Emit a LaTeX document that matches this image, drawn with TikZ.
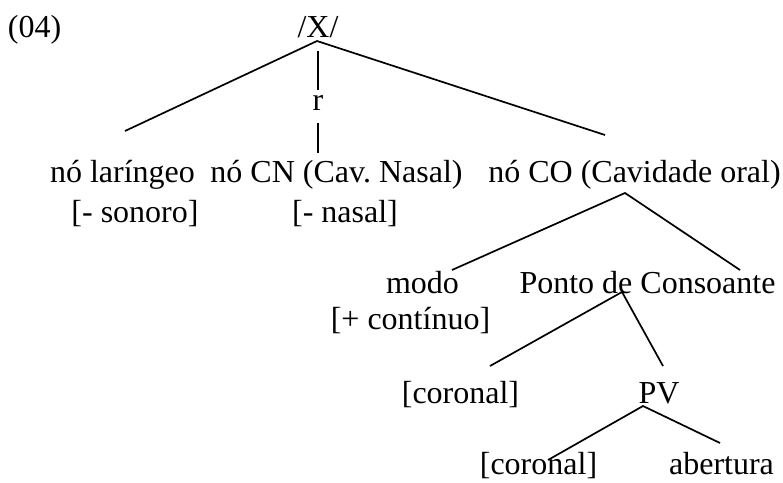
\documentclass[tikz,border=0pt]{standalone}
\usepackage{fontspec}
\setmainfont{Liberation Serif}
\frenchspacing
\begin{document}
\begin{tikzpicture}[x=1pt,y=-1pt,
  lbl/.style={anchor=base,inner sep=0pt,outer sep=0pt,font=\fontsize{32}{38}\selectfont},
  branch/.style={line width=1.7pt},
  tick/.style={line width=1.1pt}]
\useasboundingbox (0,0) rectangle (783,482);

% labels
\node[lbl,anchor=base west] (num) at (8,37) {(04)};
\node[lbl] (X) at (318,37) {/X/};
\node[lbl] (r) at (318,110) {r};
\node[lbl] (lar) at (122.5,182) {nó laríngeo};
\node[lbl] (cn) at (336.5,182) {nó CN (Cav. Nasal)};
\node[lbl] (co) at (634.5,182) {nó CO (Cavidade oral)};
\node[lbl] (son) at (135,222) {[- sonoro]};
\node[lbl] (nas) at (345,222) {[- nasal]};
\node[lbl] (modo) at (422.5,293) {modo};
\node[lbl] (pc) at (647.5,293) {Ponto de Consoante};
\node[lbl] (cont) at (410.5,329) {[+ contínuo]};
\node[lbl] (cor1) at (460.5,403) {[coronal]};
\node[lbl] (pv) at (659,403) {PV};
\node[lbl] (cor2) at (538.5,474) {[coronal]};
\node[lbl] (ab) at (721.5,474) {abertura};

% branch points and branch ends
\coordinate (xroot) at (317,41);
\coordinate (larend) at (125,131);
\coordinate (coend) at (605,135);
\coordinate (barAtop) at (318,51);
\coordinate (barAbot) at (318,90);
\coordinate (barBtop) at (318,123);
\coordinate (barBbot) at (318,153);
\coordinate (coroot) at (625,193);
\coordinate (modoend) at (452,270);
\coordinate (pcend) at (740,270);
\coordinate (pcroot) at (622,292);
\coordinate (cor1end) at (490,366);
\coordinate (pvend) at (663,366);
\coordinate (pvroot) at (643,406);
\coordinate (cor2end) at (548,460);
\coordinate (abend) at (720,443);

% tree
\draw[branch] (larend) -- (xroot) -- (coend);
\draw[tick] (barAtop) -- (barAbot);
\draw[tick] (barBtop) -- (barBbot);
\draw[branch] (modoend) -- (coroot) -- (pcend);
\draw[branch] (cor1end) -- (pcroot) -- (pvend);
\draw[branch] (cor2end) -- (pvroot) -- (abend);
\end{tikzpicture}
\end{document}
